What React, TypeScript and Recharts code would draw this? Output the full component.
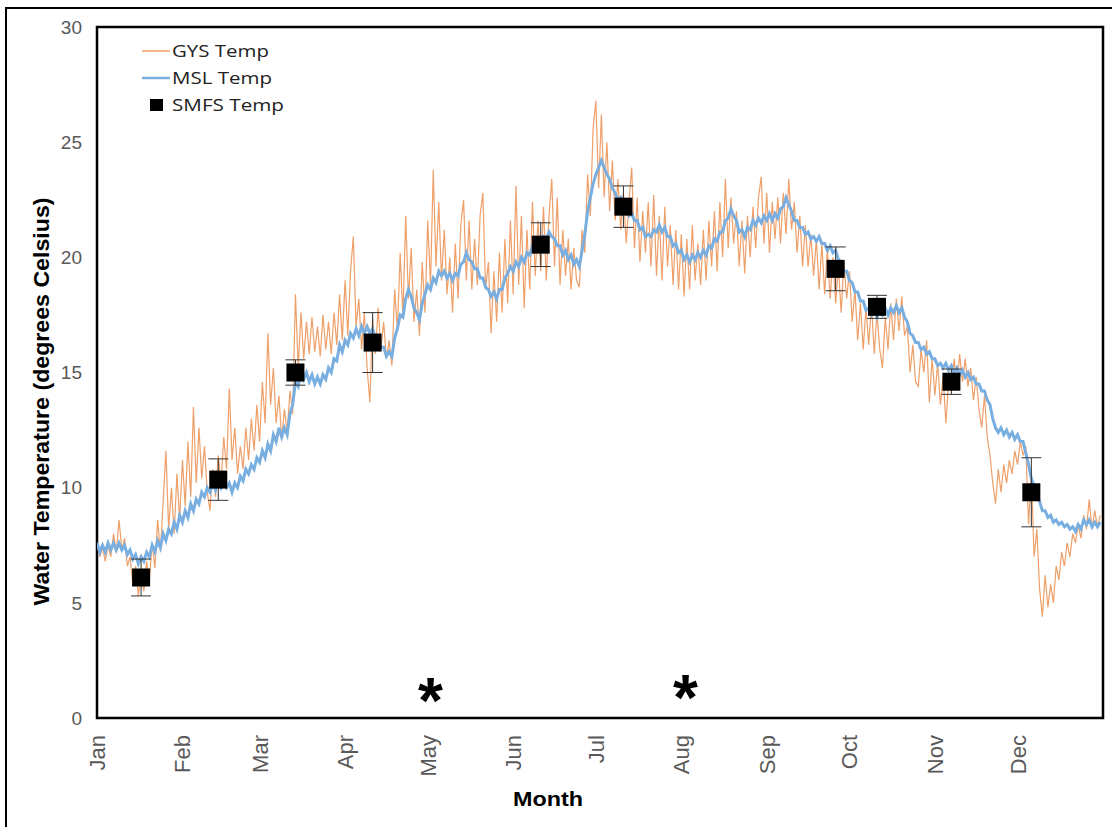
import React from "react";
import {
  ComposedChart,
  Line,
  Scatter,
  ErrorBar,
  XAxis,
  YAxis,
  ReferenceArea,
  Legend,
} from "recharts";

// Month labels and the day-of-year on which each month starts
const monthLabels = ["Jan", "Feb", "Mar", "Apr", "May", "Jun", "Jul", "Aug", "Sep", "Oct", "Nov", "Dec"];
const monthStartDays = [0, 31, 59, 90, 120, 151, 181, 212, 243, 273, 304, 334];
const yTicks = [0, 5, 10, 15, 20, 25, 30];

// GYS water temperature, one reading per day (day 0 = Jan 1)
const gysTemp = [
  7.6, 7.0, 7.4, 6.8, 7.5, 7.0, 8.0, 7.2, 8.6, 7.3, // 0
  7.8, 6.6, 7.0, 5.8, 6.6, 5.3, 6.3, 5.5, 6.8, 5.9, // 10
  7.6, 6.5, 8.6, 7.2, 9.4, 11.6, 8.2, 10.0, 8.0, 10.6, // 20
  8.6, 11.2, 9.2, 12.0, 9.6, 13.5, 10.2, 12.6, 10.4, 11.8, // 30
  9.8, 9.0, 10.8, 9.6, 11.4, 10.2, 12.2, 10.8, 14.3, 11.2, // 40
  12.6, 10.6, 11.8, 10.8, 12.6, 11.2, 13.0, 11.6, 13.6, 12.0, // 50
  14.6, 12.8, 16.7, 13.6, 15.2, 12.8, 14.0, 12.1, 13.4, 12.4, // 60
  14.2, 13.2, 18.4, 15.2, 17.6, 15.6, 17.2, 15.8, 17.4, 15.9, // 70
  17.0, 15.7, 17.5, 16.0, 17.2, 15.8, 17.6, 16.2, 18.4, 16.4, // 80
  19.0, 16.6, 19.4, 20.9, 17.0, 18.2, 16.0, 17.6, 15.2, 13.7, // 90
  17.4, 15.8, 17.8, 16.0, 17.2, 15.6, 16.4, 15.3, 18.6, 16.8, // 100
  20.2, 17.4, 21.8, 18.2, 20.4, 17.2, 18.6, 16.6, 19.8, 17.6, // 110
  21.6, 18.8, 23.8, 19.6, 22.4, 19.0, 21.2, 18.4, 20.0, 17.6, // 120
  20.6, 18.2, 21.4, 22.5, 19.0, 21.6, 18.6, 20.8, 18.8, 21.8, // 130
  22.8, 18.6, 19.8, 16.7, 19.4, 17.2, 20.2, 17.6, 20.8, 18.0, // 140
  21.6, 18.4, 23.1, 18.8, 21.8, 17.8, 21.2, 18.6, 22.4, 19.2, // 150
  21.6, 19.4, 22.2, 19.0, 21.8, 23.4, 19.6, 22.6, 18.8, 21.2, // 160
  19.2, 20.8, 18.6, 20.4, 19.0, 18.7, 21.2, 20.2, 23.6, 21.8, // 170
  25.6, 26.8, 23.0, 26.2, 22.6, 25.0, 22.0, 24.2, 21.6, 23.4, // 180
  21.2, 22.8, 20.6, 22.4, 23.9, 20.4, 22.6, 19.8, 22.0, 20.2, // 190
  22.4, 19.6, 22.7, 19.2, 21.8, 19.0, 22.2, 19.6, 21.4, 18.8, // 200
  21.2, 18.6, 21.0, 18.3, 20.8, 18.6, 21.4, 19.0, 20.6, 18.8, // 210
  21.2, 19.0, 21.6, 19.6, 22.0, 19.4, 22.4, 20.0, 23.4, 20.4, // 220
  22.6, 20.6, 22.0, 19.6, 21.6, 19.3, 21.8, 20.0, 22.2, 20.4, // 230
  22.6, 23.5, 20.6, 22.8, 20.2, 22.4, 20.8, 22.6, 20.6, 22.8, // 240
  21.0, 23.4, 21.2, 22.4, 20.2, 21.8, 19.6, 21.4, 19.6, 21.0, // 250
  19.2, 20.8, 18.6, 20.6, 18.4, 20.4, 18.2, 20.0, 18.0, 19.6, // 260
  17.6, 19.8, 18.2, 19.4, 17.2, 18.6, 16.4, 18.0, 16.0, 17.8, // 270
  16.2, 18.0, 15.8, 17.6, 16.0, 15.2, 17.4, 16.0, 18.0, 16.4, // 280
  18.2, 16.8, 18.3, 16.6, 17.0, 15.0, 16.2, 14.6, 14.4, 16.0, // 290
  15.0, 16.4, 13.7, 15.6, 14.0, 15.4, 13.6, 14.8, 12.8, 14.6, // 300
  14.2, 15.6, 14.4, 15.8, 14.6, 15.6, 14.4, 15.2, 13.8, 14.8, // 310
  13.4, 12.6, 14.0, 12.2, 11.4, 10.2, 9.3, 10.8, 9.8, 11.0, // 320
  10.2, 11.2, 10.6, 11.6, 11.0, 12.0, 11.4, 11.8, 8.4, 10.6, // 330
  7.0, 8.2, 5.6, 4.4, 6.2, 4.8, 5.8, 5.0, 6.6, 6.0, // 340
  7.2, 6.6, 7.6, 7.0, 8.0, 7.6, 8.4, 7.8, 8.8, 8.2, // 350
  9.5, 8.2, 9.0, 8.3, 8.8, // 360
];

// MSL water temperature, one reading per day (day 0 = Jan 1)
const mslTemp = [
  7.6, 7.2, 7.5, 7.2, 7.6, 7.3, 7.6, 7.3, 7.6, 7.3, // 0
  7.5, 7.1, 7.3, 6.9, 7.1, 6.7, 7.0, 6.8, 7.2, 7.0, // 10
  7.5, 7.2, 7.7, 7.4, 8.0, 7.7, 8.2, 8.0, 8.5, 8.2, // 20
  8.8, 8.5, 9.0, 8.7, 9.3, 9.0, 9.5, 9.3, 9.8, 9.6, // 30
  10.0, 9.8, 10.2, 9.9, 10.3, 10.0, 10.3, 10.0, 10.2, 9.8, // 40
  10.2, 10.0, 10.5, 10.3, 10.8, 10.6, 11.0, 10.8, 11.3, 11.1, // 50
  11.6, 11.3, 11.9, 11.6, 12.3, 12.0, 12.6, 12.2, 12.6, 12.3, // 60
  13.2, 13.6, 14.6, 14.4, 15.0, 14.7, 15.0, 14.6, 14.9, 14.5, // 70
  14.8, 14.5, 14.9, 14.7, 15.2, 15.0, 15.6, 15.5, 16.2, 15.9, // 80
  16.4, 16.2, 16.7, 16.5, 16.9, 16.6, 17.0, 16.7, 17.0, 16.7, // 90
  16.9, 16.5, 16.5, 16.1, 16.1, 15.7, 15.9, 15.7, 16.5, 16.9, // 100
  17.5, 17.4, 18.2, 18.6, 18.3, 17.8, 17.6, 17.3, 18.0, 18.4, // 110
  18.8, 18.6, 19.1, 18.9, 19.4, 19.2, 19.4, 19.1, 19.3, 19.0, // 120
  19.3, 19.2, 19.7, 19.8, 20.2, 19.9, 19.8, 19.5, 19.5, 19.1, // 130
  19.1, 18.7, 18.6, 18.3, 18.5, 18.2, 18.6, 18.6, 19.1, 19.3, // 140
  19.6, 19.4, 19.8, 19.6, 20.0, 19.8, 20.2, 20.1, 20.5, 20.4, // 150
  20.7, 20.5, 20.9, 20.8, 21.1, 20.9, 20.8, 20.5, 20.5, 20.1, // 160
  20.3, 19.9, 20.1, 19.7, 19.9, 19.6, 20.3, 21.0, 22.0, 22.6, // 170
  23.2, 23.6, 23.9, 24.2, 23.9, 23.6, 23.4, 23.0, 22.8, 22.5, // 180
  22.6, 22.2, 22.2, 21.8, 21.9, 21.6, 21.6, 21.2, 21.3, 20.9, // 190
  21.0, 20.9, 21.2, 21.1, 21.4, 21.1, 21.3, 20.9, 20.9, 20.5, // 200
  20.6, 20.2, 20.3, 19.9, 20.1, 19.8, 20.1, 19.9, 20.2, 20.0, // 210
  20.3, 20.1, 20.5, 20.4, 20.8, 20.7, 21.1, 21.1, 21.6, 21.7, // 220
  22.1, 21.8, 21.6, 21.1, 21.2, 20.9, 21.3, 21.2, 21.6, 21.4, // 230
  21.7, 21.5, 21.8, 21.6, 21.9, 21.6, 21.9, 21.7, 22.1, 22.2, // 240
  22.6, 22.3, 22.0, 21.6, 21.6, 21.3, 21.3, 21.0, 21.1, 20.8, // 250
  20.9, 20.7, 20.9, 20.6, 20.6, 20.3, 20.5, 20.2, 20.3, 19.9, // 260
  19.8, 19.4, 19.4, 19.0, 18.9, 18.5, 18.5, 18.1, 18.1, 17.7, // 270
  17.8, 17.5, 17.7, 17.4, 17.7, 17.5, 17.8, 17.5, 17.8, 17.6, // 280
  17.9, 17.6, 17.8, 17.4, 17.2, 16.7, 16.6, 16.3, 16.3, 16.0, // 290
  16.1, 15.8, 15.9, 15.6, 15.6, 15.3, 15.4, 15.2, 15.4, 15.1, // 300
  15.3, 15.0, 15.2, 14.9, 15.1, 14.8, 15.0, 14.7, 14.8, 14.5, // 310
  14.5, 14.2, 14.2, 13.8, 13.6, 13.0, 12.6, 12.4, 12.6, 12.3, // 320
  12.5, 12.2, 12.4, 12.1, 12.3, 12.0, 12.0, 11.5, 11.0, 10.4, // 330
  10.1, 9.6, 9.4, 9.0, 9.0, 8.7, 8.8, 8.5, 8.6, 8.4, // 340
  8.5, 8.3, 8.4, 8.2, 8.3, 8.1, 8.4, 8.2, 8.6, 8.4, // 350
  8.6, 8.3, 8.5, 8.3, 8.5, // 360
];

// SMFS sampling events: day of year, mean temperature, error
const smfsDays = [16, 44, 72, 100, 161, 191, 268, 283, 310, 339];
const smfsTemp = [6.1, 10.35, 15.0, 16.3, 20.55, 22.2, 19.5, 17.85, 14.6, 9.8];
const smfsErr = [0.8, 0.9, 0.55, 1.3, 0.95, 0.9, 0.95, 0.5, 0.55, 1.5];

// Significance markers (asterisks) at month starts
const starDays = [121, 213.5];
const starLevels = [1.3, 1.45];

const lineData = gysTemp.map((g, i) => ({ day: i, gys: g, msl: mslTemp[i] }));
const smfsData = smfsDays.map((d, i) => ({ day: d, temp: smfsTemp[i], err: smfsErr[i] }));
const starData = starDays.map((d, i) => ({ day: d, level: starLevels[i] }));

const GYS_COLOR = "#EFA06A";
const MSL_COLOR = "#78AEE0";
const AXIS_TEXT = "#595959";
const FONT = "'Liberation Sans', Arial, sans-serif";

const MonthTick = (props: any) => {
  const { x, y, payload } = props;
  const idx = monthStartDays.indexOf(payload.value);
  const label = idx >= 0 ? monthLabels[idx] : "";
  return (
    <text
      transform={`translate(${x + 8},${y}) rotate(-90)`}
      textAnchor="end"
      fontSize={22}
      fontFamily={FONT}
      fill={AXIS_TEXT}
    >
      {label}
    </text>
  );
};

const SquareShape = (props: any) => {
  const { cx, cy } = props;
  if (cx == null || cy == null) return null;
  return <rect x={cx - 9} y={cy - 9} width={18} height={18} fill="#000000" />;
};

const StarShape = (props: any) => {
  const { cx, cy } = props;
  if (cx == null || cy == null) return null;
  return (
    <text
      x={cx}
      y={cy + 35}
      textAnchor="middle"
      fontSize={64}
      fontWeight="bold"
      fontFamily={FONT}
      fill="#000000"
    >
      *
    </text>
  );
};

const renderLegend = () => (
  <svg width={180} height={82} style={{ display: "block" }}>
    <line x1={7} y1={13} x2={35} y2={13} stroke={GYS_COLOR} strokeWidth={1.5} />
    <text x={37} y={19} fontSize={17} fontFamily="'Open Sans', sans-serif" fill="#222" textLength={97} lengthAdjust="spacingAndGlyphs">
      GYS Temp
    </text>
    <line x1={7} y1={40} x2={35} y2={40} stroke={MSL_COLOR} strokeWidth={2.5} />
    <text x={37} y={46} fontSize={17} fontFamily="'Open Sans', sans-serif" fill="#222" textLength={100} lengthAdjust="spacingAndGlyphs">
      MSL Temp
    </text>
    <rect x={15} y={61} width={13} height={12} fill="#000" />
    <text x={37} y={73} fontSize={17} fontFamily="'Open Sans', sans-serif" fill="#222" textLength={112} lengthAdjust="spacingAndGlyphs">
      SMFS Temp
    </text>
  </svg>
);

const YLabel = (props: any) => {
  const vb = props.viewBox || { x: 37, y: 27, width: 60, height: 691 };
  const cx = 49;
  const cy = vb.y + vb.height / 2 + 29;
  return (
    <text
      transform={`translate(${cx},${cy}) rotate(-90)`}
      textAnchor="middle"
      fontSize={22}
      fontWeight="bold"
      fontFamily={FONT}
      fill="#000"
      textLength={408}
      lengthAdjust="spacingAndGlyphs"
    >
      Water Temperature (degrees Celsius)
    </text>
  );
};

const XLabel = () => (
  <text
    x={548}
    y={806}
    textAnchor="middle"
    fontSize={21}
    fontWeight="bold"
    fontFamily={FONT}
    fill="#000"
    textLength={70}
    lengthAdjust="spacingAndGlyphs"
  >
    Month
  </text>
);

export default function App() {
  return (
    <div style={{ position: "absolute", left: 0, top: 0, width: 1112, height: 827, background: "#fff", overflow: "hidden" }}>
      <div
        style={{
          position: "absolute",
          left: 5,
          top: 7,
          width: 1120,
          height: 840,
          borderLeft: "2px solid #000",
          borderTop: "2px solid #000",
          boxSizing: "border-box",
        }}
      />
      <ComposedChart
        width={1112}
        height={827}
        data={lineData}
        margin={{ top: 27, right: 9, bottom: 49, left: 37 }}
        style={{ position: "absolute", left: 0, top: 0 }}
      >
        <XAxis
          type="number"
          dataKey="day"
          domain={[0, 365]}
          ticks={monthStartDays}
          interval={0}
          allowDataOverflow
          axisLine={false}
          tickLine={false}
          tickSize={0}
          tickMargin={17}
          height={60}
          tick={<MonthTick />}
          label={<XLabel />}
        />
        <YAxis
          type="number"
          domain={[0, 30]}
          ticks={yTicks}
          interval={0}
          allowDataOverflow
          axisLine={false}
          tickLine={false}
          tickSize={0}
          tickMargin={15}
          width={60}
          tick={{ fill: AXIS_TEXT, fontSize: 19, fontFamily: FONT }}
          label={<YLabel />}
        />
        <ReferenceArea
          x1={0}
          x2={365}
          y1={0}
          y2={30}
          fill="none"
          fillOpacity={0}
          stroke="#000"
          strokeWidth={2.5}
          ifOverflow="visible"
        />
        <Line
          name="GYS Temp"
          dataKey="gys"
          type="linear"
          stroke={GYS_COLOR}
          strokeWidth={1.2}
          dot={false}
          activeDot={false}
          isAnimationActive={false}
        />
        <Line
          name="MSL Temp"
          dataKey="msl"
          type="linear"
          stroke={MSL_COLOR}
          strokeWidth={3}
          dot={false}
          activeDot={false}
          isAnimationActive={false}
        />
        <Scatter
          name="SMFS Temp"
          data={smfsData}
          dataKey="temp"
          shape={<SquareShape />}
          isAnimationActive={false}
        >
          <ErrorBar dataKey="err" direction="y" width={10} stroke="#333" strokeWidth={1} />
        </Scatter>
        <Scatter
          name="stars"
          data={starData}
          dataKey="level"
          shape={<StarShape />}
          isAnimationActive={false}
          legendType="none"
        />
        <Legend
          layout="horizontal"
          verticalAlign="middle"
          align="center"
          content={renderLegend}
          wrapperStyle={{ position: "absolute", left: 135, top: 38, width: 180, height: 82 }}
        />
      </ComposedChart>
    </div>
  );
}
